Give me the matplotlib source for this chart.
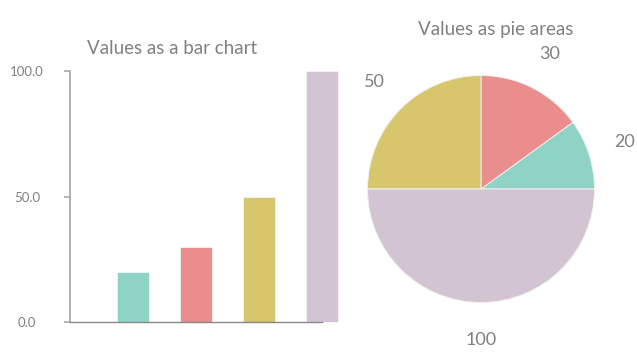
import matplotlib
matplotlib.use("Agg")
import matplotlib.pyplot as plt

plt.rcParams.update({
    "font.family": ["Lato", "DejaVu Sans"],
})

values = [20, 30, 50, 100]
positions = [1, 2, 3, 4]
colors = ["#8fd3c6", "#e98e8c", "#d7c66b", "#d3c4d4"]
y_ticks = [0, 50, 100]
y_labels = ["0.0", "50.0", "100.0"]
pie_labels = ["20", "30", "50", "100"]

W, H = 637, 354
fig = plt.figure(figsize=(W / 100, H / 100), dpi=100)

grey = "#808080"

# ---- bar chart ----
ax = fig.add_axes([70 / W, 1 - 322 / H, 252 / W, 251 / H])
bars = ax.bar(positions, values, width=0.5, color=colors,
              edgecolor="#f4f4f4", linewidth=0.6, clip_on=False)
ax.set_xlim(0, 4)
ax.set_ylim(0, 100)
for s in ("top", "right"):
    ax.spines[s].set_visible(False)
ax.spines["left"].set_color("#aaaaaa")
ax.spines["left"].set_linewidth(1.3)
ax.spines["bottom"].set_color("#888888")
ax.spines["bottom"].set_linewidth(1.0)
ax.set_xticks([])
ax.set_yticks(y_ticks)
ax.set_yticklabels(y_labels)
ax.tick_params(axis="y", length=4, width=1.2, color="#aaaaaa",
               labelsize=9.5, labelcolor=grey, pad=27)
for lbl in ax.get_yticklabels():
    lbl.set_horizontalalignment("center")
fig.text(172 / W, 1 - 48 / H, "Values as a bar chart", ha="center",
         va="center", fontsize=13.5, color=grey)

# ---- pie chart ----
cx, cy, r = 481, 189, 113.5
pax = fig.add_axes([(cx - r) / W, 1 - (cy + r) / H, 2 * r / W, 2 * r / H])
wedges, texts = pax.pie(values, labels=pie_labels, colors=colors,
                        startangle=0, counterclock=True, labeldistance=1.33,
                        wedgeprops=dict(edgecolor="#f0f0f0", linewidth=0.7),
                        textprops=dict(fontsize=13, color=grey))
for t in texts:
    t.set_horizontalalignment("center")
    t.set_verticalalignment("center")
pax.set_xlim(-1, 1)
pax.set_ylim(-1, 1)
pax.set_aspect("equal")
fig.text(496 / W, 1 - 29 / H, "Values as pie areas", ha="center",
         va="center", fontsize=13.5, color=grey)

fig.savefig("out.png", dpi=100)
